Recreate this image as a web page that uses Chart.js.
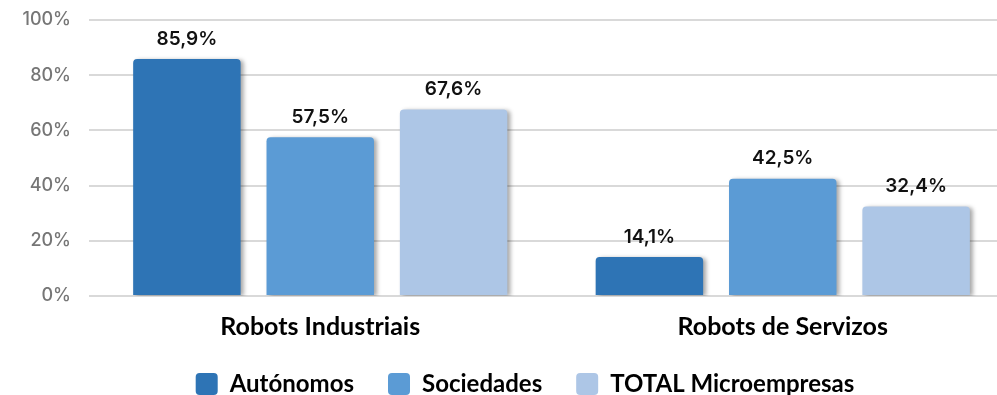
<!DOCTYPE html>
<html>
<head>
<meta charset="utf-8">
<script src="https://cdn.jsdelivr.net/npm/chart.js@4/dist/chart.umd.min.js"></script>
<style>
  html, body { margin: 0; padding: 0; background: #fff; overflow: hidden; }
  #wrap { position: relative; width: 1014px; height: 395px; }
</style>
</head>
<body>
<div id="wrap"><canvas id="roboChart"></canvas></div>
<script>
const categories = ['Robots Industriais', 'Robots de Servizos'];
const seriesNames = ['Autónomos', 'Sociedades', 'TOTAL Microempresas'];
const autonomos = [85.9, 14.1];
const sociedades = [57.5, 42.5];
const totalMicro = [67.6, 32.4];
const yTicks = [0, 20, 40, 60, 80, 100];

const colors = ['#2e74b5', '#5b9bd5', '#adc6e6'];

// soft drop shadow behind the bars, then the value labels on top
const barDecor = {
  id: 'barDecor',
  beforeDatasetsDraw(chart) {
    const ctx = chart.ctx;
    ctx.save();
    ctx.shadowColor = 'rgba(0, 0, 0, 0.35)';
    ctx.shadowBlur = 4;
    ctx.shadowOffsetX = 3;
    ctx.shadowOffsetY = 1;
  },
  afterDatasetsDraw(chart) {
    const ctx = chart.ctx;
    ctx.restore();
    ctx.save();
    ctx.font = '600 19px Inter';
    ctx.fillStyle = '#111';
    ctx.textAlign = 'center';
    ctx.textBaseline = 'middle';
    chart.data.datasets.forEach((ds, i) => {
      chart.getDatasetMeta(i).data.forEach((bar, j) => {
        const txt = ds.data[j].toFixed(1).replace('.', ',') + '%';
        ctx.fillText(txt, bar.x, bar.y - 20);
      });
    });
    ctx.restore();
  }
};

// shift the legend row a little to the right
const legendOffset = {
  id: 'legendOffset',
  afterLayout(chart) {
    const l = chart.legend;
    l.left += 18; l.right += 18;
  }
};

const ctx = document.getElementById('roboChart').getContext('2d');

new Chart(ctx, {
  type: 'bar',
  data: {
    labels: categories,
    datasets: [
      { label: seriesNames[0], data: autonomos, backgroundColor: colors[0] },
      { label: seriesNames[1], data: sociedades, backgroundColor: colors[1] },
      { label: seriesNames[2], data: totalMicro, backgroundColor: colors[2] }
    ]
  },
  options: {
    responsive: true,
    maintainAspectRatio: false,
    animation: false,
    layout: { padding: { top: 20, right: 0, bottom: 0, left: 0 } },
    datasets: {
      bar: {
        categoryPercentage: 0.865,
        barPercentage: 0.806,
        borderRadius: { topLeft: 4, topRight: 4 },
        borderSkipped: 'bottom'
      }
    },
    scales: {
      x: {
        grid: { display: false },
        border: { display: false },
        ticks: {
          color: '#000',
          padding: 8,
          font: { family: 'Lato', weight: 'bold', size: 25 }
        },
        afterFit(scale) { scale.height = 42; }
      },
      y: {
        min: 0,
        max: 100,
        afterBuildTicks(scale) { scale.ticks = yTicks.map(v => ({ value: v })); },
        grid: { color: '#d9d9d9', lineWidth: 2, drawTicks: false },
        border: { display: false },
        ticks: {
          color: '#767676',
          padding: 18,
          font: { family: 'Inter', size: 18, weight: '500' },
          callback: v => v + '%'
        },
        afterFit(scale) {
          scale.width = 89;
          scale.paddingTop = 0;
          scale.paddingBottom = 0;
        }
      }
    },
    plugins: {
      legend: {
        position: 'bottom',
        maxHeight: 57,
        labels: {
          color: '#000',
          boxWidth: 22,
          boxHeight: 22,
          padding: 34,
          useBorderRadius: true,
          borderRadius: 4,
          font: { family: 'Lato', weight: 'bold', size: 24 }
        }
      },
      tooltip: { enabled: false }
    }
  },
  plugins: [barDecor, legendOffset]
});
</script>
</body>
</html>
